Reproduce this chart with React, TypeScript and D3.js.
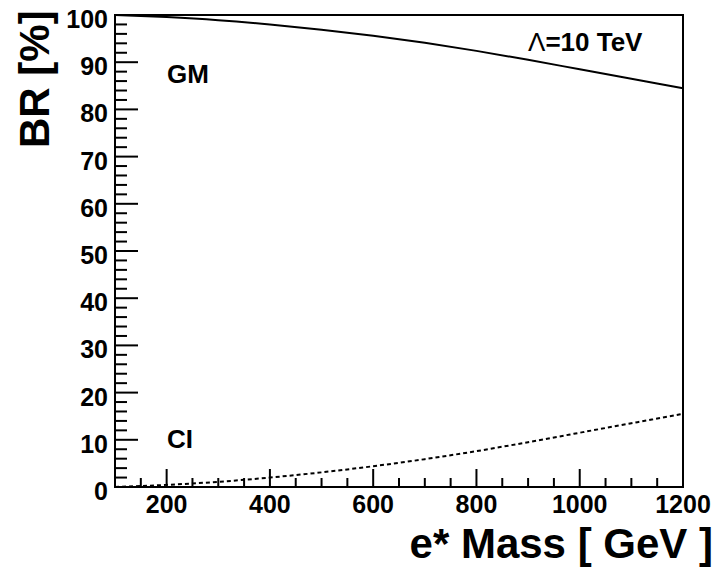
import React from "react";
import * as d3 from "d3";

const masses = [100, 200, 300, 400, 500, 600, 700, 800, 900, 1000, 1100, 1200];
const ciValues = [0.0, 0.45, 1.1, 2.0, 3.1, 4.4, 5.9, 7.6, 9.5, 11.5, 13.5, 15.5];
const gmValues = [100.0, 99.55, 98.9, 98.0, 96.9, 95.6, 94.1, 92.4, 90.5, 88.5, 86.5, 84.5];
const xTickLabels = [200, 400, 600, 800, 1000, 1200];
const yTickLabels = [0, 10, 20, 30, 40, 50, 60, 70, 80, 90, 100];

const W = 715;
const H = 569;
const left = 115;
const right = 683;
const top = 15;
const bottom = 487;

const FONT = "'Liberation Sans', Arial, Helvetica, sans-serif";

export default function App() {
  const x = d3.scaleLinear().domain([100, 1200]).range([left, right]);
  const y = d3.scaleLinear().domain([0, 100]).range([bottom, top]);

  const line = d3
    .line<number>()
    .x((_, i) => x(masses[i]))
    .y((d) => y(d))
    .curve(d3.curveMonotoneX);

  const xMinor = d3.range(150, 1200, 50).filter((v) => v % 200 !== 0);
  const yMinor = d3.range(2, 100, 2).filter((v) => v % 10 !== 0);

  return (
    <svg
      width={W}
      height={H}
      style={{ position: "absolute", left: 0, top: 0, background: "#fff" }}
      fontFamily={FONT}
    >
      <rect x={0} y={0} width={W} height={H} fill="#fff" />
      {/* curves */}
      <path d={line(gmValues) || ""} fill="none" stroke="#000" strokeWidth={2} />
      <path
        d={line(ciValues) || ""}
        fill="none"
        stroke="#000"
        strokeWidth={2}
        strokeDasharray="4,3"
      />
      {/* x ticks */}
      {xTickLabels.map((v) => (
        <line key={"xM" + v} x1={x(v)} x2={x(v)} y1={bottom} y2={bottom - 18} stroke="#000" strokeWidth={2} />
      ))}
      {xMinor.map((v) => (
        <line key={"xm" + v} x1={x(v)} x2={x(v)} y1={bottom} y2={bottom - 9} stroke="#000" strokeWidth={2} />
      ))}
      {/* y ticks */}
      {yTickLabels.map((v) => (
        <line key={"yM" + v} x1={left} x2={left + 23} y1={y(v)} y2={y(v)} stroke="#000" strokeWidth={2} />
      ))}
      {yMinor.map((v) => (
        <line key={"ym" + v} x1={left} x2={left + 12} y1={y(v)} y2={y(v)} stroke="#000" strokeWidth={2} />
      ))}
      {/* frame */}
      <rect x={left} y={top} width={right - left} height={bottom - top} fill="none" stroke="#000" strokeWidth={2} />
      {/* tick labels */}
      {xTickLabels.map((v) => (
        <text key={"xl" + v} x={x(v)} y={513} textAnchor="middle" fontSize={25} fontWeight="bold">
          {v}
        </text>
      ))}
      {yTickLabels.map((v) => (
        <text key={"yl" + v} x={108} y={y(v) + 13} textAnchor="end" fontSize={25} fontWeight="bold">
          {v}
        </text>
      ))}
      {/* axis titles */}
      <text x={713} y={558} textAnchor="end" fontSize={42} fontWeight="bold">
        e* Mass [ GeV ]
      </text>
      <text
        transform={`translate(49,148) rotate(-90)`}
        textAnchor="start"
        fontSize={42}
        fontWeight="bold"
      >
        BR [%]
      </text>
      {/* annotations */}
      <text x={167} y={83} fontSize={26} fontWeight="bold">GM</text>
      <text x={167} y={448} fontSize={26} fontWeight="bold">CI</text>
      <text x={528} y={51} fontSize={26}>
        <tspan fontWeight="normal">Λ</tspan>
        <tspan fontWeight="bold">=10 TeV</tspan>
      </text>
    </svg>
  );
}
